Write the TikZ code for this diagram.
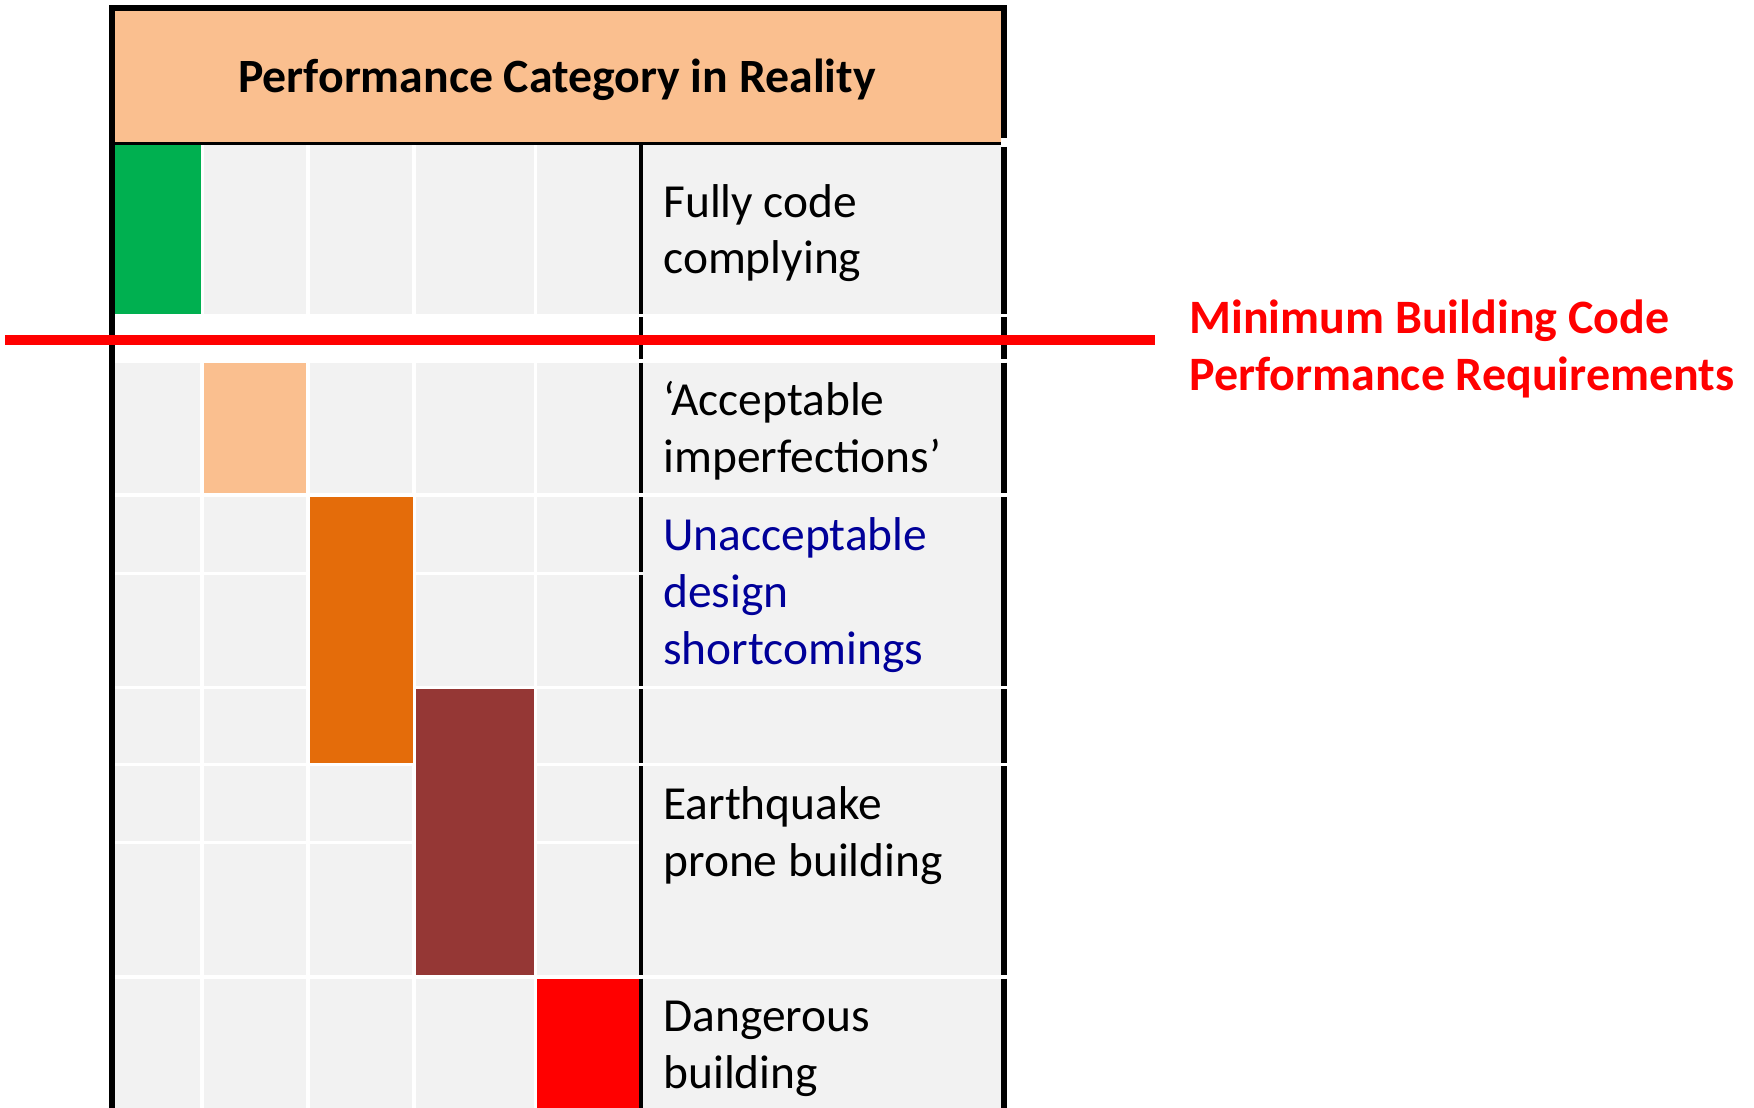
\documentclass[tikz,border=0pt]{standalone}
\usepackage{fontspec}
\setmainfont{Carlito}
\definecolor{headpeach}{HTML}{FABF8F}
\definecolor{cellgrey}{HTML}{F2F2F2}
\definecolor{codegreen}{HTML}{00B050}
\definecolor{shortorange}{HTML}{E46C0A}
\definecolor{pronebrown}{HTML}{953735}
\definecolor{reqred}{HTML}{FF0000}
\definecolor{textblue}{HTML}{000099}

\begin{document}
\begin{tikzpicture}[x=0.02cm, y=-0.02cm]
    \tikzstyle{cell text}=[anchor=base west, inner sep=0pt, align=left, font=\fontsize{27}{32.4}\selectfont]
    \tikzstyle{head text}=[anchor=base, inner sep=0pt, font=\bfseries\fontsize{27.2}{32.4}\selectfont]
    \tikzstyle{req text}=[anchor=base west, inner sep=0pt, align=left, text=reqred, font=\bfseries\fontsize{27.3}{32.4}\selectfont]
    \tikzstyle{gap line}=[draw=white, line width=2pt]
    \tikzstyle{frame line}=[draw=black, line width=3.4pt]
    \tikzstyle{divider line}=[draw=black, line width=2pt]
    \tikzstyle{req line}=[draw=reqred, line width=6.1pt]

    \useasboundingbox (0,0) rectangle (1754,1108);

    % Draw the grey cells and the white band
    \fill[cellgrey] (115,145) rectangle (1001,1108);
    \fill[white] (115,314) rectangle (1001,362.7);

    % White gaps between the cells
    \foreach \x in {202.2,308,414,535.3}
      \path[gap line] (\x,145) -- (\x,1108);
    \foreach \y in {495,687.7,764.4,977}
      \path[gap line] (115,\y) -- (1001,\y);
    \foreach \y in {573.7,842.5}
      \path[gap line] (115,\y) -- (639,\y);

    % Draw the performance blocks
    \fill[codegreen] (115,145) rectangle (200.5,314);
    \fill[headpeach] (204,362.7) rectangle (306,493.3);
    \fill[shortorange] (310,497) rectangle (412.5,762.7);
    \fill[pronebrown] (415.6,689.3) rectangle (533.5,975.3);
    \fill[reqred] (537,978.7) rectangle (639,1108);

    % Divider and right border, broken at the row gaps
    \foreach \top / \bot in {145/314,317/359,362.7/493.3,497/572,575.3/686,689.3/762.7,766/975.3,978.7/1108}
      \path[divider line] (641,\top) -- (641,\bot);
    \foreach \top / \bot in {147/314,317/359,362.7/493.3,497/686,689.3/762.7,766/975.3,978.7/1108}
      \path[frame line] (1004,\top) -- (1004,\bot);

    % Draw the header
    \fill[headpeach] (115,10.7) rectangle (1001,141.7);
    \path[draw=black, line width=1.9pt] (115,143.4) -- (1001,143.4);
    \path[frame line, line join=miter] (112,1108) -- (112,7.7) -- (1004,7.7) -- (1004,138);
    \node[head text] (title) at (557,93) {Performance Category in Reality};

    % Annotate the categories (anchored on the last line)
    \node[cell text] (fully) at (663,274) {Fully code\\complying};
    \node[cell text] (accept) at (663,472) {‘Acceptable\\imperfections’};
    \node[cell text, text=textblue] (unaccept) at (663,664) {Unacceptable\\design\\shortcomings};
    \node[cell text] (quake) at (663,876.5) {Earthquake\\prone building};
    \node[cell text] (danger) at (663,1088.8) {Dangerous\\building};

    % Minimum requirement line
    \coordinate (req-a) at (5,340);
    \coordinate (req-b) at (1155,340);
    \path[req line] (req-a) -- (req-b);
    \node[req text] (minreq) at (1189,390) {Minimum Building Code\\Performance Requirements};
\end{tikzpicture}
\end{document}
